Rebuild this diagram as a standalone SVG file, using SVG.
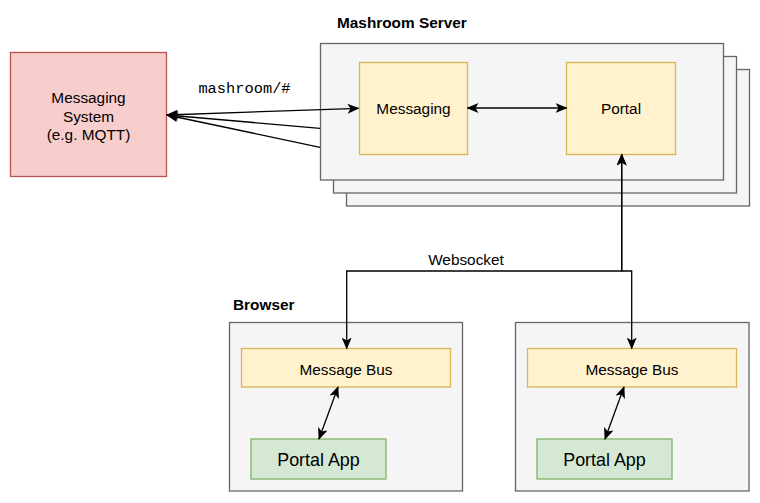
<svg xmlns="http://www.w3.org/2000/svg" width="760" height="503" viewBox="0 0 760 503">
  <style>
    text { font-family: "Liberation Sans", Helvetica, Arial, sans-serif; font-size: 15.36px; fill: #000; }
    .title { font-weight: bold; }
    .mono { font-family: "Liberation Mono", "Courier New", monospace; }
    .big { font-size: 17.9px; }
    .gray { fill: #f5f5f5; stroke: #666666; stroke-width: 1.3; }
    .yellow { fill: #fff2cc; stroke: #d6b656; stroke-width: 1.3; }
    .green { fill: #d5e8d4; stroke: #82b366; stroke-width: 1.3; }
    .red { fill: #f8cecc; stroke: #b85450; stroke-width: 1.3; }
    .edge { fill: none; stroke: #000; stroke-width: 1.3; }
  </style>
  <defs>
    <marker id="arrow" markerUnits="userSpaceOnUse" markerWidth="12" markerHeight="10" viewBox="0 0 12 10" refX="11" refY="5" orient="auto-start-reverse">
      <path d="M0,0 L12,5 L0,10 L3,5 Z" fill="#000"/>
    </marker>
  </defs>

  <rect width="760" height="503" fill="#ffffff"/>

  <g id="messaging-system">
    <rect class="red" x="10.5" y="52.5" width="156" height="124"/>
    <text x="88.5" y="103" text-anchor="middle">Messaging</text>
    <text x="88.5" y="121.5" text-anchor="middle">System</text>
    <text x="88.5" y="140" text-anchor="middle">(e.g. MQTT)</text>
  </g>

  <g id="mashroom-server">
    <text class="title" x="337" y="28.3">Mashroom Server</text>
    <rect class="gray" x="346.5" y="69.5" width="403" height="136.5"/>
    <rect class="gray" x="333.5" y="56.5" width="403" height="136.5"/>
    <rect class="gray" x="320.5" y="43.5" width="403" height="136.5"/>
  </g>

  <g id="messaging">
    <rect class="yellow" x="359.5" y="62.5" width="108" height="92"/>
    <text x="413.5" y="113.5" text-anchor="middle">Messaging</text>
  </g>

  <g id="portal">
    <rect class="yellow" x="566.5" y="62.5" width="109" height="92"/>
    <text x="621" y="113.5" text-anchor="middle">Portal</text>
  </g>

  <g id="browser-1">
    <text class="title" x="233" y="310">Browser</text>
    <rect class="gray" x="229.5" y="322.5" width="233" height="168.5"/>
  </g>
  <g id="message-bus-1">
    <rect class="yellow" x="241.5" y="348.5" width="209" height="38.5"/>
    <text x="346" y="375" text-anchor="middle">Message Bus</text>
  </g>
  <g id="portal-app-1">
    <rect class="green" x="251" y="439" width="135" height="40"/>
    <text class="big" x="318.5" y="466" text-anchor="middle">Portal App</text>
  </g>

  <g id="browser-2">
    <rect class="gray" x="515.5" y="322.5" width="233.5" height="168.5"/>
  </g>
  <g id="message-bus-2">
    <rect class="yellow" x="527.5" y="348.5" width="209" height="38.5"/>
    <text x="632" y="375" text-anchor="middle">Message Bus</text>
  </g>
  <g id="portal-app-2">
    <rect class="green" x="537" y="439" width="135" height="40"/>
    <text class="big" x="604.5" y="466" text-anchor="middle">Portal App</text>
  </g>

  <g id="connectors">
    <line class="edge" x1="358.5" y1="108.3" x2="167" y2="115" marker-start="url(#arrow)" marker-end="url(#arrow)"/>
    <line class="edge" x1="320" y1="128.3" x2="167" y2="115" marker-end="url(#arrow)"/>
    <line class="edge" x1="320" y1="147.3" x2="167" y2="115" marker-end="url(#arrow)"/>
    <text class="mono" x="244.5" y="93.3" text-anchor="middle">mashroom/#</text>

    <line class="edge" x1="467.5" y1="108" x2="566.5" y2="108" marker-start="url(#arrow)" marker-end="url(#arrow)"/>

    <path class="edge" d="M621.7,154.5 V271 H346.7 V348.5" marker-start="url(#arrow)" marker-end="url(#arrow)"/>
    <path class="edge" d="M621.7,154.5 V271 H631.7 V348.5" marker-start="url(#arrow)" marker-end="url(#arrow)"/>
    <text x="466" y="264.5" text-anchor="middle">Websocket</text>

    <line class="edge" x1="338" y1="387" x2="319" y2="439" marker-start="url(#arrow)" marker-end="url(#arrow)"/>
    <line class="edge" x1="624" y1="387" x2="605" y2="439" marker-start="url(#arrow)" marker-end="url(#arrow)"/>
  </g>
</svg>
